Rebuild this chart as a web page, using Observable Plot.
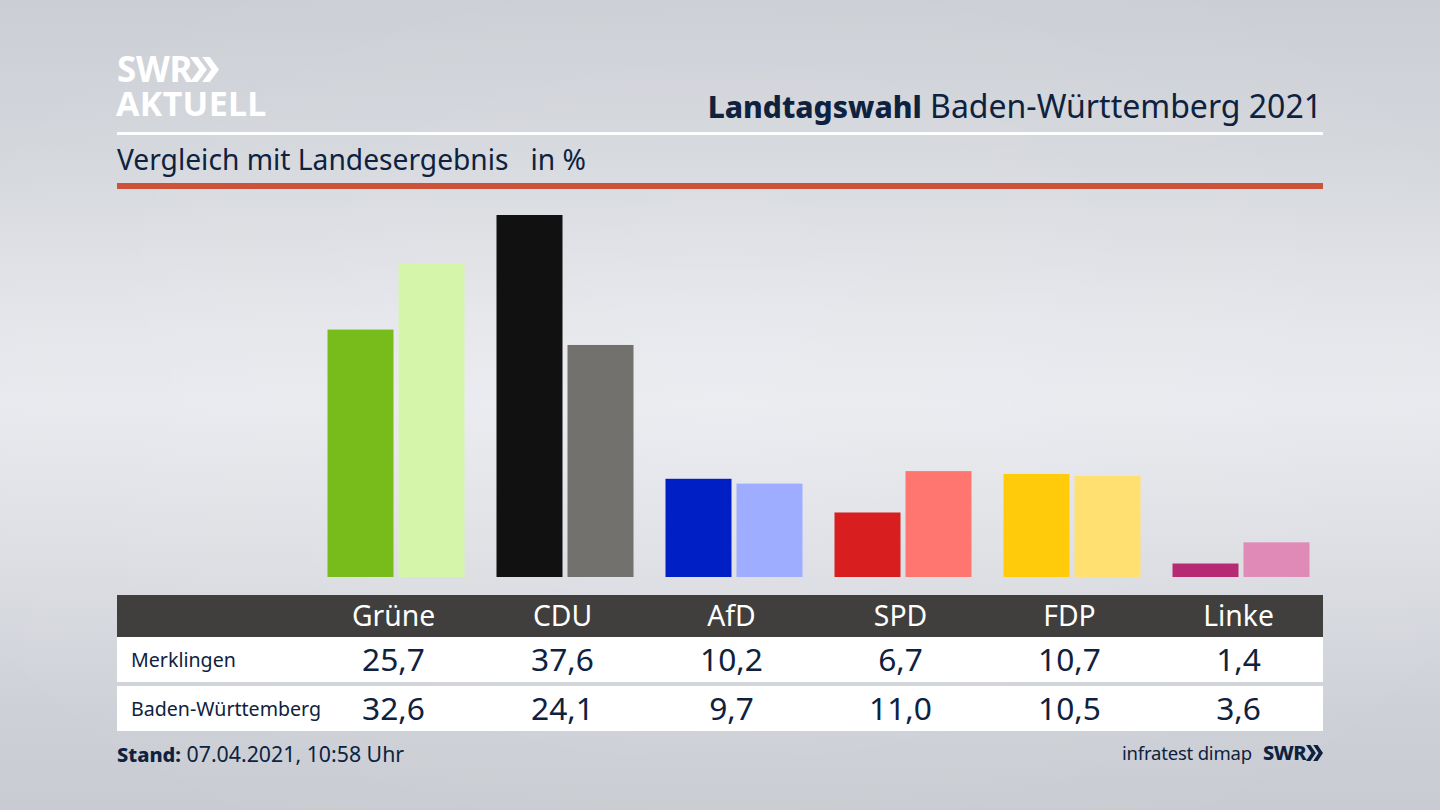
<!DOCTYPE html>
<html lang="de">
<head>
<meta charset="utf-8">
<script src="https://cdn.jsdelivr.net/npm/d3@7"></script>
<script src="https://cdn.jsdelivr.net/npm/@observablehq/plot@0.6"></script>
<style>
html,body{margin:0;padding:0;width:1440px;height:810px;overflow:hidden}
body{position:relative;font-family:"Noto Sans",sans-serif;color:#0e2240;
background:
 radial-gradient(ellipse 900px 520px at 50% 50%,rgba(255,255,255,.16),rgba(255,255,255,0)),
 linear-gradient(180deg,#cbced4 0%,#d3d6db 18%,#e4e5ea 40%,#e8e9ee 50%,#dcdee3 68%,#cdd0d6 88%,#c8cbd1 100%);}
.a{position:absolute;white-space:nowrap}
#chart{position:absolute;left:0;top:0;z-index:2}
.w{background:#fff}
.chev{position:absolute;clip-path:polygon(0 0,26% 0,58% 50%,26% 100%,0 100%,32% 50%,0 0,42% 0,68% 0,100% 50%,68% 100%,42% 100%,74% 50%,42% 0,0 0)}
</style>
</head>
<body>
<div class="a" style="left:117px;top:54px;font-size:35px;font-weight:700;color:#fff;line-height:30px;letter-spacing:-.3px">SWR</div>
<div class="chev" style="left:190px;top:57px;width:29px;height:25px;background:#fff"></div>
<div class="a" style="left:116px;top:89px;font-size:34px;font-weight:700;color:#fff;line-height:28px;letter-spacing:.3px">AKTUELL</div>
<div class="a" style="right:118px;top:84px;font-size:32px;line-height:44px"><b style="font-weight:800;font-size:30px">Landtagswahl</b> Baden-Württemberg 2021</div>
<div class="a w" style="left:117px;top:132px;width:1206px;height:3px"></div>
<div class="a" style="left:117px;top:138px;font-size:28.2px;line-height:42px">Vergleich mit Landesergebnis&nbsp;&nbsp; in %</div>
<div class="a" style="left:117px;top:183px;width:1206px;height:6px;background:#cc5339"></div>

<div class="a" style="left:117px;top:595px;width:1206px;height:42px;background:#403f3d"></div>
<div class="a w" style="left:117px;top:637px;width:1206px;height:45px"></div>
<div class="a w" style="left:117px;top:686px;width:1206px;height:45px"></div>
<div class="a" style="left:131px;top:645px;font-size:19.6px;line-height:30px;z-index:3" id="r0"></div>
<div class="a" style="left:131px;top:694px;font-size:19.6px;line-height:30px;z-index:3" id="r1"></div>

<div class="a" style="left:117px;top:739px;font-size:21.3px;line-height:30px"><b style="font-weight:800;font-size:20px">Stand:</b> 07.04.2021, 10:58 Uhr</div>
<div class="a" style="left:1122px;top:739px;font-size:18.5px;line-height:28px;letter-spacing:-.2px">infratest dimap</div>
<div class="a" style="left:1263px;top:739px;font-size:20px;font-weight:800;line-height:28px;letter-spacing:-.5px">SWR</div>
<div class="chev" style="left:1306px;top:745px;width:17px;height:16px;background:#0e2240"></div>
<div id="chart"></div>

<script>
const parties = ["Grüne", "CDU", "AfD", "SPD", "FDP", "Linke"];
const rowNames = ["Merklingen", "Baden-Württemberg"];
const merklingen = [25.7, 37.6, 10.2, 6.7, 10.7, 1.4];
const landesergebnis = [32.6, 24.1, 9.7, 11.0, 10.5, 3.6];
const colorsLocal = ["#78bc1b", "#111111", "#001fc4", "#d81e1e", "#ffcb0a", "#b52a72"];
const colorsState = ["#d5f5ab", "#72716e", "#9eadff", "#ff7570", "#ffe070", "#e08ab8"];

const fmt = v => v.toFixed(1).replace(".", ",");
const bars = parties.flatMap((p, i) => [
  {party: p, row: rowNames[0], value: merklingen[i], color: colorsLocal[i]},
  {party: p, row: rowNames[1], value: landesergebnis[i], color: colorsState[i]}
]);

document.getElementById("r0").textContent = rowNames[0];
document.getElementById("r1").textContent = rowNames[1];

const chart = Plot.plot({
  width: 1440,
  height: 810,
  marginLeft: 308.5,
  marginRight: 117.5,
  marginTop: 215,
  marginBottom: 233,
  style: {background: "transparent", overflow: "visible", fontFamily: "'Noto Sans',sans-serif"},
  fx: {domain: parties, axis: null, label: null, paddingInner: 32/169, paddingOuter: 16/169, round: false},
  x: {domain: rowNames, axis: null, label: null, paddingInner: 5/71, paddingOuter: 0, round: false},
  y: {domain: [0, 37.6], axis: null, label: null},
  color: {type: "identity"},
  marks: [
    Plot.barY(bars, {fx: "party", x: "row", y: "value", fill: "color", dx: 3}),
    Plot.axisFx({anchor: "bottom", tickSize: 0, tickPadding: 0, dy: 39, label: null, fill: "#fff", fontSize: 28.3, lineAnchor: "middle"}),
    Plot.text(bars.filter(d => d.row === rowNames[0]), {fx: "party", text: d => fmt(d.value), frameAnchor: "bottom", dy: 83.5, fontSize: 31.7, fill: "#0e2240", lineAnchor: "middle"}),
    Plot.text(bars.filter(d => d.row === rowNames[1]), {fx: "party", text: d => fmt(d.value), frameAnchor: "bottom", dy: 132.5, fontSize: 31.7, fill: "#0e2240", lineAnchor: "middle"})
  ]
});
document.getElementById("chart").appendChild(chart);
</script>
</body>
</html>
